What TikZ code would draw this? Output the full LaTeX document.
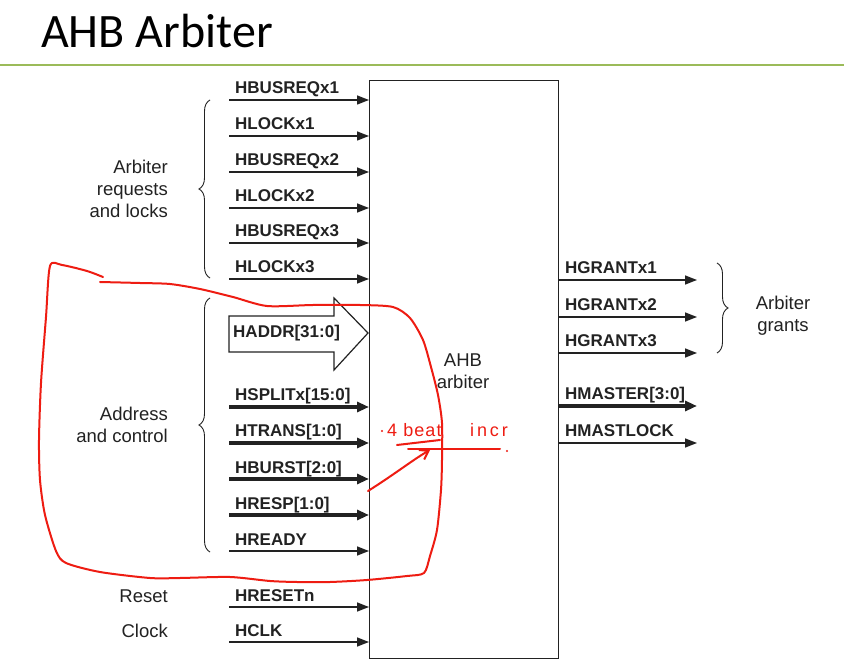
\documentclass[tikz,border=0pt]{standalone}
\usepackage{fontspec}
\setmainfont{Liberation Sans}
\newfontfamily\titlefont{Carlito}
\usetikzlibrary{arrows.meta,decorations.pathreplacing,calc}
\definecolor{ink}{HTML}{222222}
\definecolor{rulegreen}{HTML}{9BBB59}
\definecolor{pen}{HTML}{EE1C12}
\begin{document}
\begin{tikzpicture}[x=1pt,y=-1pt,
  sig/.style={draw=ink, line width=1.4pt, -{Triangle[length=12pt,width=9pt]}},
  bus/.style={draw=ink, line width=4pt, -{Triangle[length=12pt,width=10pt]}},
  lbl/.style={anchor=base west, inner sep=0pt, font=\fontsize{17}{20}\selectfont\bfseries, text=ink},
  grp/.style={inner sep=0pt, font=\fontsize{18.5}{22}\selectfont, text=ink},
  brc/.style={draw=ink, line width=0.9pt, decorate, decoration={brace, amplitude=11pt}},
  hand/.style={draw=pen, line width=2pt, line cap=round, line join=round},
  handtext/.style={anchor=base west, inner sep=0pt, text=pen, font=\fontsize{18}{20}\selectfont\addfontfeatures{LetterSpace=6}},
]
\useasboundingbox (0,0) rectangle (844,660);
\fill[white] (0,0) rectangle (844,660);

% title and rule
\node[anchor=base west, inner sep=0pt, font=\titlefont\fontsize{48}{56}\selectfont] (title) at (41,48) {AHB Arbiter};
\draw[rulegreen, line width=2.5pt] (0,65) coordinate (ruleL) -- (844,65) coordinate (ruleR);

% arbiter block
\node[draw=ink, line width=1.2pt, anchor=north west, inner sep=0pt,
      minimum width=189pt, minimum height=578pt] (arb) at (369,80) {};
\node[grp, align=center] (arbtxt) at (463,371) {AHB\\arbiter};

% single-bit inputs
\foreach \y/\t in {100/HBUSREQx1,136/HLOCKx1,172/HBUSREQx2,208/HLOCKx2,243/HBUSREQx3,279/HLOCKx3,551/HREADY,607/HRESETn,642/HCLK}{
  \coordinate (in\y) at (229,\y);
  \draw[sig] (in\y) -- (in\y -| arb.west);
  \node[lbl] (lin\y) at (235,\y-6) {\t};
}
% bus inputs
\foreach \y/\t in {407/{HSPLITx[15:0]},443/{HTRANS[1:0]},479/{HBURST[2:0]},515/{HRESP[1:0]}}{
  \coordinate (in\y) at (229,\y);
  \draw[bus] (in\y) -- (in\y -| arb.west);
  \node[lbl] (lin\y) at (235,\y-6) {\t};
}
% HADDR wide arrow
\draw[ink, line width=1.2pt, fill=white] (229,316) -- (334,316) -- (334,298) -- (368,333) -- (334,370) -- (334,352) -- (229,352) -- cycle;
\node[lbl, anchor=west] (haddr) at (233,333) {HADDR[31:0]};

% outputs
\foreach \y/\t in {280/HGRANTx1,317/HGRANTx2,353/HGRANTx3,443/HMASTLOCK}{
  \coordinate (out\y) at (697,\y);
  \draw[sig] (out\y -| arb.east) -- (out\y);
  \node[lbl] (lout\y) at (565,\y-6) {\t};
}
\coordinate (out406) at (697,406);
\draw[bus] (out406 -| arb.east) -- (out406);
\node[lbl] (lout406) at (565,400) {HMASTER[3:0]};

% braces and group labels
\draw[brc] (210,278) -- (210,100);
\node[grp, align=right, anchor=east] (g1) at (168,189) {Arbiter\\requests\\and locks};
\draw[brc] (210,552) -- (210,298);
\node[grp, align=right, anchor=east] (g2) at (168,425) {Address\\and control};
\draw[brc] (717,263) -- (717,353);
\node[grp, align=center] (g3) at (783,316) {Arbiter\\grants};
\node[grp, anchor=base east] (g4) at (168,602) {Reset};
\node[grp, anchor=base east] (g5) at (168,637) {Clock};

% red hand annotations
\draw[hand] plot[smooth, tension=0.45] coordinates {
  (100,282) (140,283) (170,284) (200,289) (233,297) (267,306) (313,305) (360,305) (393,307)
  (410,318) (423,340) (431,367) (438,395) (442,423) (442,460) (441,490) (437,530)
  (430,556) (424,573) (407,576) (367,580) (330,582) (297,582) (270,581) (230,577)
  (180,578) (150,578) (100,572) (66,563) (56,551) (45,515) (40,480) (39,440) (41,383)
  (46,317) (50,266) (62,265) (87,271) (103,277)};
\coordinate (penA) at (368,491);
\coordinate (penB) at (430,450);
\draw[hand, -{Straight Barb[length=8pt,width=11pt]}] (penA) .. controls (395,474) and (414,459) .. (penB);
\coordinate (ulA) at (397,445);
\coordinate (ulB) at (440,440);
\draw[hand] (ulA) -- (ulB);
\coordinate (hzA) at (408,449);
\coordinate (hzB) at (500,449);
\draw[hand] (hzA) -- (hzB);
\fill[pen] (507,451) circle (1.2pt);
\fill[pen] (382,431) circle (1.2pt);
\node[handtext] (beat) at (387,437) {4 beat};
\node[handtext, font=\fontsize{18}{20}\selectfont\addfontfeatures{LetterSpace=16}] (incr) at (470,437) {incr};
\end{tikzpicture}
\end{document}
